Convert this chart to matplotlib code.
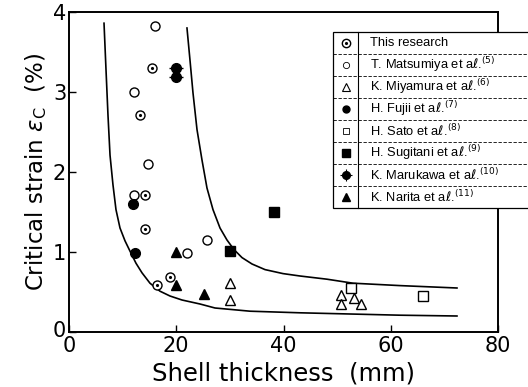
import matplotlib
matplotlib.use("Agg")
import matplotlib.pyplot as plt
from matplotlib.patches import Rectangle
from matplotlib.lines import Line2D
from matplotlib.transforms import ScaledTranslation

plt.rcParams['font.family'] = ['DejaVu Sans']
plt.rcParams['mathtext.fontset'] = 'dejavusans'

# data (shell thickness mm, critical strain %)
this_x = [15.5, 13.2, 14.2, 14.2, 18.8, 16.4]
this_y = [3.30, 2.71, 1.71, 1.29, 0.69, 0.59]

matsumiya_x = [16.0, 12.1, 14.7, 12.1, 22.0, 25.7]
matsumiya_y = [3.83, 3.00, 2.10, 1.71, 0.99, 1.15]

miyamura_x = [30.0, 30.0, 50.7, 50.7, 53.2, 54.5]
miyamura_y = [0.61, 0.40, 0.46, 0.35, 0.43, 0.35]

fujii_x = [11.9, 12.3]
fujii_y = [1.60, 0.99]

sato_x = [52.6, 66.0]
sato_y = [0.55, 0.45]

sugitani_x = [38.3, 30.0]
sugitani_y = [1.50, 1.01]

marukawa_x = [20.0, 20.0]
marukawa_y = [3.30, 3.19]

narita_x = [20.0, 20.0, 25.2]
narita_y = [1.00, 0.59, 0.47]

# boundary curves, points
lower_x = [6.53, 6.90, 7.27, 7.65, 8.20, 8.76, 9.51, 10.44, 11.38, 12.49, 13.61, 15.10,
           16.97, 18.83, 21.07, 24.43, 27.23, 33.75, 43.08, 61.73, 72.35]
lower_y = [3.86, 3.28, 2.71, 2.21, 1.84, 1.53, 1.30, 1.14, 1.01, 0.86, 0.74, 0.61,
           0.51, 0.45, 0.40, 0.35, 0.30, 0.26, 0.24, 0.21, 0.20]
upper_x = [22.00, 22.56, 23.12, 23.87, 24.80, 25.73, 26.85, 28.16, 29.46, 30.77, 32.26,
           34.13, 36.55, 39.91, 43.08, 48.11, 52.96, 61.72, 72.35]
upper_y = [3.80, 3.40, 2.99, 2.53, 2.15, 1.80, 1.53, 1.30, 1.15, 1.03, 0.93,
           0.85, 0.78, 0.73, 0.70, 0.66, 0.61, 0.58, 0.55]

labels = ["This research",
          r"T. Matsumiya et a$\ell$.$^{(5)}$",
          r"K. Miyamura et a$\ell$.$^{(6)}$",
          r"H. Fujii et a$\ell$.$^{(7)}$",
          r"H. Sato et a$\ell$.$^{(8)}$",
          r"H. Sugitani et a$\ell$.$^{(9)}$",
          r"K. Marukawa et a$\ell$.$^{(10)}$",
          r"K. Narita et a$\ell$.$^{(11)}$"]

fig = plt.figure(figsize=(5.28, 3.87), dpi=100)
ax = fig.add_axes([69/528, 1 - 332/387, (498-69)/528, (332-12)/387])

ax.plot(lower_x, lower_y, color='black', lw=1.2, solid_joinstyle='round')
ax.plot(upper_x, upper_y, color='black', lw=1.2, solid_joinstyle='round')

ms = 6.5
ax.plot(this_x, this_y, 'o', mfc='white', mec='black', ms=ms, mew=1)
ax.plot(this_x, this_y, '.', color='black', ms=2.5)
ax.plot(matsumiya_x, matsumiya_y, 'o', mfc='white', mec='black', ms=ms, mew=1)
ax.plot(miyamura_x, miyamura_y, '^', mfc='white', mec='black', ms=7.5, mew=1)
ax.plot(fujii_x, fujii_y, 'o', color='black', ms=7)
ax.plot(sato_x, sato_y, 's', mfc='white', mec='black', ms=6.5, mew=1)
ax.plot(sugitani_x, sugitani_y, 's', color='black', ms=6.5)
ax.plot(marukawa_x, marukawa_y, 'o', color='black', ms=7)
ax.plot(marukawa_x, marukawa_y, '_', color='black', ms=10, mew=1)
ax.plot(narita_x, narita_y, '^', color='black', ms=7.5)

ax.set_xlim(0, 80)
ax.set_ylim(0, 4)
ax.set_xticks([0, 20, 40, 60, 80])
ax.set_yticks([0, 1, 2, 3, 4])
ax.tick_params(direction='in', length=5, width=1, labelsize=15)
ax.tick_params(axis='x', pad=3)
ax.tick_params(axis='y', pad=2)
for s in ax.spines.values():
    s.set_linewidth(1.4)

# lift the y "0" a little so it clears the x "0"
y0 = ax.get_yticklabels()[0]
y0.set_transform(y0.get_transform() + ScaledTranslation(0, 3/100, fig.dpi_scale_trans))

ax.set_xlabel("Shell thickness  (mm)", fontsize=17.5, labelpad=4)
ax.set_ylabel(r"Critical strain $\varepsilon_{\rm C}$  (%)", fontsize=16.5, labelpad=3)

# table-style legend, drawn over the right spine
px = lambda x: x / 528
py = lambda y: 1 - y / 387
left, right, top, bottom = 333, 540, 32, 208
fig.patches.append(Rectangle((px(left), py(bottom)), px(right - left), py(top) - py(bottom),
                             transform=fig.transFigure, facecolor='white', edgecolor='black',
                             lw=0.9, zorder=5))
fig.lines.append(Line2D([px(358), px(358)], [py(top), py(bottom)], transform=fig.transFigure,
                        color='black', lw=0.8, zorder=6))
row_h = (bottom - top) / len(labels)
styles = [
    dict(marker='o', mfc='white', mec='black', ms=6, mew=1),
    dict(marker='o', mfc='white', mec='black', ms=4.5, mew=0.6),
    dict(marker='^', mfc='white', mec='black', ms=5.5, mew=0.8),
    dict(marker='o', mfc='black', mec='black', ms=5),
    dict(marker='s', mfc='white', mec='black', ms=5, mew=0.6),
    dict(marker='s', mfc='black', mec='black', ms=6),
    dict(marker='o', mfc='black', mec='black', ms=5.5),
    dict(marker='^', mfc='black', mec='black', ms=5.5),
]
for i, (lab, st) in enumerate(zip(labels, styles)):
    yc = top + row_h * (i + 0.5)
    if i > 0:
        fig.lines.append(Line2D([px(left), px(right)], [py(top + row_h * i)] * 2,
                                transform=fig.transFigure, color='black', lw=0.6,
                                ls=(0, (4, 2)), zorder=6))
    fig.lines.append(Line2D([px(346)], [py(yc)], transform=fig.transFigure,
                            ls='none', zorder=7, **st))
    if i == 0:
        fig.lines.append(Line2D([px(346)], [py(yc)], transform=fig.transFigure,
                                ls='none', marker='.', color='black', ms=2.5, zorder=8))
    if i == 6:
        fig.lines.append(Line2D([px(346)], [py(yc)], transform=fig.transFigure,
                                ls='none', marker='+', color='black', ms=9, mew=0.8, zorder=8))
    fig.text(px(370), py(yc), lab, fontsize=9.3, va='center', ha='left', zorder=8,
             family=['Liberation Sans', 'DejaVu Sans'])

fig.savefig("out.png", dpi=100)
